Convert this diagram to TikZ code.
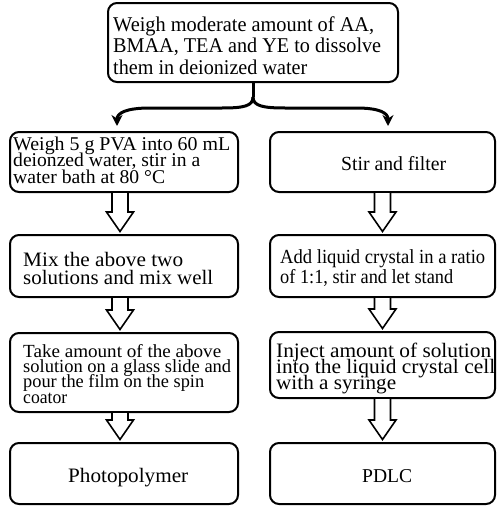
\documentclass[tikz,border=0pt]{standalone}
\usepackage{fontspec}
\usepackage{graphicx}
\setmainfont{Liberation Serif}
\usetikzlibrary{calc,arrows.meta}
\newcommand\fs[2]{\fontsize{#1}{#2}\selectfont\lineskiplimit=-100pt\lineskip=0pt}
\newcommand\lw[2]{\resizebox{#1pt}{\height}{#2}}
\newcommand\fst{\rule{0pt}{15pt}}
\tikzset{
  box/.style={draw, line width=2pt, rounded corners=9pt, inner sep=0pt},
  txt/.style={anchor=north west, inner sep=0pt, align=left},
  harrow/.style={draw, line width=1.6pt, fill=white, line join=miter},
  bracestem/.style={line width=3pt},
  bracearm/.style={line width=3pt, -{Stealth[length=11pt,width=11pt]}}
}
% hollow arrow: #1 from node, #2 to node, #3 x offset from node centres
\newcommand\hollowarrow[3]{%
  \draw[harrow] ($(#1.south)+(#3-8,0)$) -- ($(#2.north)+(#3-8,-22)$) -- ($(#2.north)+(#3-13.5,-22)$)
    -- ($(#2.north)+(#3,-2.5)$) -- ($(#2.north)+(#3+13.5,-22)$) -- ($(#2.north)+(#3+8,-22)$) -- ($(#1.south)+(#3+8,0)$);}
\begin{document}
\begin{tikzpicture}[x=1pt,y=-1pt]
\useasboundingbox (0,0) rectangle (497,506);
% boxes
\node[box, minimum width=290pt, minimum height=79pt] (T) at (253,42.5) {};
\node[box, minimum width=228pt, minimum height=60pt] (L1) at (124,162) {};
\node[box, minimum width=228pt, minimum height=62pt] (L2) at (124,266) {};
\node[box, minimum width=228pt, minimum height=79pt] (L3) at (124,372.5) {};
\node[box, minimum width=228pt, minimum height=61pt] (L4) at (124,473.5) {};
\node[box, minimum width=225pt, minimum height=60pt] (R1) at (382.5,162) {};
\node[box, minimum width=225pt, minimum height=62pt] (R2) at (382.5,266) {};
\node[box, minimum width=225pt, minimum height=66pt] (R3) at (382.5,365) {};
\node[box, minimum width=225pt, minimum height=61pt] (R4) at (382.5,473.5) {};
% texts
\node[txt, font=\fs{21}{21.5}] (Tt) at (113,16)
  {\fst\lw{261}{Weigh moderate amount of AA,}\\ \lw{268}{BMAA, TEA and YE to dissolve}\\ \lw{194}{them in deionized water}};
\node[txt, font=\fs{19.5}{16.2}] (L1t) at (13,135.5)
  {\fst\lw{217}{Weigh 5 g PVA into 60 mL}\\ \lw{187}{deionzed water, stir in a}\\ \lw{152}{water bath at 80 °C}};
\node[txt, font=\fs{20.5}{17.8}] (L2t) at (23,251.7)
  {\fst\lw{160}{Mix the above two}\\ \lw{190}{solutions and mix well}};
\node[txt, font=\fs{18.5}{15.3}] (L3t) at (23,342)
  {\fst\lw{198}{Take amount of the above}\\ \lw{208}{solution on a glass slide and}\\ \lw{181}{pour the film on the spin}\\ \lw{44}{coator}};
\node[txt, font=\fs{20.5}{20}] (L4t) at (68,467) {\fst\lw{120}{Photopolymer}};
\node[txt, font=\fs{20}{20}] (R1t) at (341,155) {\fst\lw{105}{Stir and filter}};
\node[txt, font=\fs{20}{20}] (R2t) at (280,248)
  {\fst\lw{205}{Add liquid crystal in a ratio}\\ \lw{173}{of 1:1, stir and let stand}};
\node[txt, font=\fs{20.5}{16}] (R3t) at (276,342)
  {\fst\lw{215}{Inject amount of solution}\\ \lw{219}{into the liquid crystal cell}\\ \lw{120}{with a syringe}};
\node[txt, font=\fs{19.6}{20}] (R4t) at (362,467) {\fst\lw{50}{PDLC}};
% brace
\coordinate (bl) at (117,126);
\coordinate (br) at (388,126);
\draw[bracestem] (T.south) -- ++(0,14) coordinate (bt);
\draw[bracearm] (bt) .. controls ++(0,9) and (244,108) .. (222,108) -- (150,108) .. controls (126,108) and (117,113) .. (bl);
\draw[bracearm] (bt) .. controls ++(0,9) and (263,108) .. (285,108) -- (356,108) .. controls (380,108) and (388,113) .. (br);
% hollow arrows
\hollowarrow{L1}{L2}{-4}
\hollowarrow{L2}{L3}{-4}
\hollowarrow{L3}{L4}{-4}
\hollowarrow{R1}{R2}{0}
\hollowarrow{R2}{R3}{0}
\hollowarrow{R3}{R4}{0}
\end{tikzpicture}
\end{document}
